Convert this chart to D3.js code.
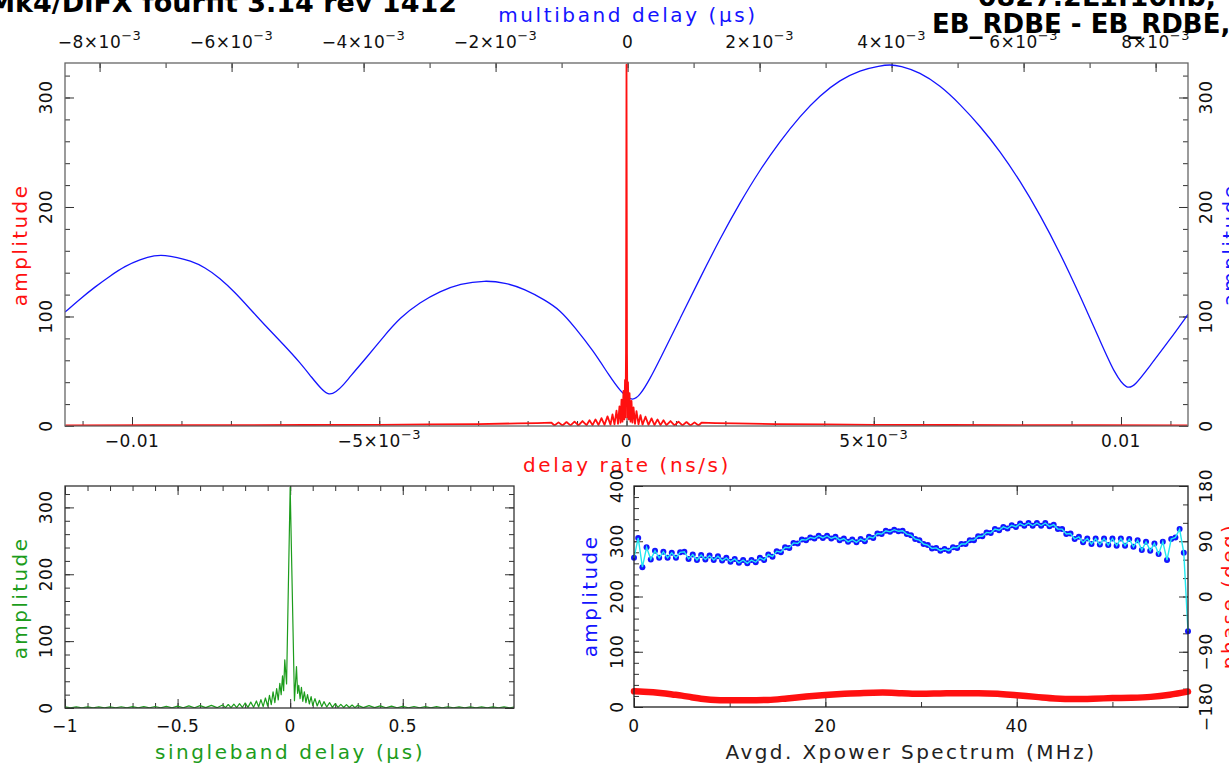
<!DOCTYPE html>
<html><head><meta charset="utf-8">
<script src="https://cdn.jsdelivr.net/npm/d3@7"></script>
<style>
body{margin:0;background:#fff}
svg{display:block}
text{font-family:"DejaVu Sans",sans-serif}
</style>
</head><body>
<svg id="c" width="1229" height="769"></svg>
<script>
// ---------------- DATA ----------------
// multiband delay (us) vs amplitude (top panel, blue, top axis)
const mbdDelay = [-8.524e-3,-8.297e-3,-8.070e-3,-7.842e-3,-7.615e-3,-7.388e-3,-7.161e-3,-7.009e-3,-6.827e-3,-6.630e-3,
 -6.403e-3,-6.176e-3,-5.948e-3,-5.721e-3,-5.464e-3,-5.206e-3,-4.964e-3,-4.782e-3,-4.630e-3,-4.524e-3,
 -4.418e-3,-4.312e-3,-4.206e-3,-3.948e-3,-3.706e-3,-3.448e-3,-3.145e-3,-2.842e-3,-2.539e-3,-2.161e-3,
 -1.858e-3,-1.555e-3,-1.252e-3,-1.024e-3,-0.797e-3,-0.524e-3,-0.267e-3,-0.115e-3,0.067e-3,0.188e-3,
 0.339e-3,0.491e-3,0.794e-3,1.097e-3,1.400e-3,1.703e-3,2.006e-3,2.309e-3,2.612e-3,2.915e-3,
 3.218e-3,3.521e-3,3.824e-3,3.976e-3,4.127e-3,4.430e-3,4.733e-3,5.036e-3,5.339e-3,5.642e-3,
 5.945e-3,6.248e-3,6.552e-3,6.855e-3,7.158e-3,7.385e-3,7.567e-3,7.688e-3,7.915e-3,8.218e-3,8.491e-3];
const mbdAmp = [104,116,127,137,146,152,156,156,154,151,
 145,135,122,107,90,74,58,44,33,28,
 31,37,45,63,81,99,113,123,130,133,
 131,125,115,106,90,69,45,32,22,28,
 43,61,98,135,171,204,234,260,283,302,
 316,325,329,330,329,323,311,294,274,251,
 224,193,158,119,78,47,33,37,55,79,102];

// delay rate (ns/s) vs amplitude (top panel, red, bottom axis)
const rateX = [-0.01135,-0.0095,-0.008,-0.0065,-0.005,-0.004,-0.003,-0.0022,-0.0018,
 -1.517e-3,-1.456e-3,-1.375e-3,-1.294e-3,-1.213e-3,-1.132e-3,-1.051e-3,-9.71e-4,-8.90e-4,-8.09e-4,-7.48e-4,-6.87e-4,-6.27e-4,-5.66e-4,-5.06e-4,-4.45e-4,-3.84e-4,-3.24e-4,-2.83e-4,-2.43e-4,-2.02e-4,-1.72e-4,-1.42e-4,-1.21e-4,-1.01e-4,-8.1e-5,-6.1e-5,-4.4e-5,-3.0e-5,-2.0e-5,-1.0e-5,
 0,
 1.0e-5,2.0e-5,3.0e-5,4.4e-5,6.1e-5,8.1e-5,1.01e-4,1.21e-4,1.42e-4,1.72e-4,2.02e-4,2.43e-4,2.83e-4,3.24e-4,3.84e-4,4.45e-4,5.06e-4,5.66e-4,6.27e-4,6.87e-4,7.48e-4,8.09e-4,8.90e-4,9.71e-4,1.051e-3,1.132e-3,1.213e-3,1.294e-3,1.375e-3,1.456e-3,1.517e-3,
 0.0018,0.0022,0.003,0.004,0.005,0.0065,0.008,0.0095,0.01135];
const rateAmp = [0.6,0.7,0.8,0.9,1.1,1.4,1.8,2.4,2.7,
 3,0.5,3.3,0.5,3.6,0.6,4,0.6,4.5,0.7,5.2,0.8,6,0.9,7.2,1,8.8,1.2,10.5,1.5,14,2,18,3,24,4,32,6,42,8,67,
 330,
 66,8,40,6,30,4,23,3,17,2,13.5,1.5,10,1.2,8.5,1,7,0.9,6,0.8,5.2,0.7,4.5,0.6,4,0.6,3.6,0.5,3.3,0.5,3,
 2.7,2.4,1.8,1.4,1.1,0.9,0.8,0.7,0.6];

// singleband delay (us) vs amplitude (bottom-left, green)
const sbdX = [-1,-0.975,-0.95,-0.925,-0.9,-0.875,-0.85,-0.825,-0.8,-0.775,-0.75,-0.725,-0.7,-0.675,-0.65,-0.625,-0.6,-0.575,-0.55,-0.525,-0.5,-0.475,-0.45,-0.425,-0.4,-0.375,-0.35,-0.325,-0.3,
 -0.2875,-0.275,-0.2625,-0.25,-0.2375,-0.225,-0.2125,-0.2,-0.1875,-0.175,-0.1625,-0.15,-0.14,-0.13,-0.12,-0.11,-0.1,-0.092,-0.084,-0.076,-0.068,-0.06,-0.053,-0.046,-0.04,-0.034,-0.029,-0.024,-0.016,
 0,
 0.019,0.028,0.033,0.038,0.044,0.05,0.056,0.063,0.07,0.077,0.085,0.093,0.1,0.11,0.12,0.13,0.14,0.15,0.1625,0.175,0.1875,0.2,0.2125,0.225,0.2375,0.25,0.2625,0.275,0.2875,0.3,
 0.325,0.35,0.375,0.4,0.425,0.45,0.475,0.5,0.525,0.55,0.575,0.6,0.625,0.65,0.675,0.7,0.725,0.75,0.775,0.8,0.825,0.85,0.875,0.9,0.925,0.95,0.975,0.994];
const sbdAmp = [1.6,0.3,1.6,0.3,1.7,0.3,1.7,0.3,1.8,0.3,1.9,0.3,2.0,0.3,2.1,0.3,2.3,0.3,2.5,0.3,2.8,0.4,3.1,0.4,3.5,0.5,4.0,0.5,4.6,
 0.6,5.2,0.6,5.8,0.7,6.5,0.8,7.5,0.9,8.8,1,10.5,1.5,12.5,2,15,3,19,5,24,8,29,12,37,20,48,26,72,36,
 330,
 11,62,22,34,14,31,10,24,8,20,6,17,4,14,3,11.5,2,9.5,1.5,8,1,6.5,1,5.5,0.8,5,0.7,4.4,0.6,4,
 0.5,3.5,0.5,3.1,0.4,2.8,0.4,2.5,0.3,2.3,0.3,2.1,0.3,2.0,0.3,1.9,0.3,1.8,0.3,1.7,0.3,1.7,0.3,1.6,0.3,1.6,0.3,1.5];

// averaged cross-power spectrum amplitude (bottom-right, blue points)
const specAmp = [270,306,253,289,267,283,270,281,270,279,270,280,281,268,276,266,275,267,274,266,
 273,265,270,263,268,261,266,260,266,262,270,266,276,272,282,280,289,288,297,296,
 303,302,307,305,310,306,310,305,308,302,305,299,303,298,304,300,308,306,314,313,
 319,317,321,318,319,313,311,304,302,295,293,287,288,283,286,283,289,288,295,295,
 302,302,309,309,316,315,322,320,326,323,329,326,332,328,333,328,333,328,333,327,
 330,322,322,313,314,304,308,298,305,295,305,294,305,293,305,292,305,292,304,290,
 302,284,299,283,296,277,299,266,304,307,322,279,137];
const specMaxFreq = 57.9; // MHz, last channel
// phase (deg) of averaged spectrum (bottom-right, red)
const phaseFreq = [0,1,2,3,4,5,6,7,8,10,12,14,16,18,20,22,24,26,28,30,32,34,36,38,40,42,44,46,48,50,52,54,56,57.9];
const phaseDeg  = [-154.5,-155,-156,-157.5,-159.5,-161.5,-164,-166.5,-168,-169,-169,-168.5,-166,-163,-160.5,-158.5,-157,-156.5,-157.5,-158.5,-158,-157.5,-157.5,-158.5,-161,-163.5,-166,-167,-166.5,-165.5,-165,-163.5,-160,-155];

// tick values / labels
const rateMajor = [-0.01,-0.005,0,0.005,0.01];
const rateLabels = [["−0.01",null],["−5","−3"],["0",null],["5","−3"],["0.01",null]];
const mbdMajor = [-8e-3,-6e-3,-4e-3,-2e-3,0,2e-3,4e-3,6e-3,8e-3];
const mbdLabels = [["−8","−3"],["−6","−3"],["−4","−3"],["−2","−3"],["0",null],["2","−3"],["4","−3"],["6","−3"],["8","−3"]];
const ampMajor = [0,100,200,300];
const sbdMajor = [-1,-0.5,0,0.5];
const sbdLabels = ["−1","−0.5","0","0.5"];
const specAmpMajor = [0,100,200,300,400];
const freqMajor = [0,20,40];
const phaseMajor = [-180,-90,0,90,180];
const phaseLabels = ["−180","−90","0","90","180"];

// ---------------- DRAWING ----------------
const svg = d3.select("#c");
svg.append("rect").attr("width",1229).attr("height",769).attr("fill","#fff");

const BLUE="#1414ff", RED="#ff1010", GREEN="#1c9c1c", CYAN="#22e8f0";
const FS=17;

function range(a,b,s){const r=[];for(let v=a;v<=b+1e-9;v+=s)r.push(+v.toFixed(8));return r;}
function tickSet(g, axisFn, scale, vals, size, tx, ty, col){
  g.append("g").attr("transform",`translate(${tx},${ty})`)
   .call(axisFn(scale).tickValues(vals).tickSize(size).tickFormat(""))
   .call(s=>{s.select(".domain").remove();s.selectAll("line").attr("stroke",col).attr("stroke-width",1);});
}
function frame(g,x0,y0,x1,y1,col){
  g.append("rect").attr("x",x0).attr("y",y0).attr("width",x1-x0).attr("height",y1-y0)
   .attr("fill","none").attr("stroke",col).attr("stroke-width",1.3);
}
function sciText(g,x,y,mant,exp,color,anchor){
  const t=g.append("text").attr("x",x).attr("y",y).attr("text-anchor",anchor||"middle")
    .attr("font-size",FS).attr("fill",color||"#111").attr("letter-spacing",0.5);
  if(exp===null){t.text(mant);return t;}
  t.append("tspan").text(mant+"×10");
  t.append("tspan").attr("dy",-8).attr("font-size",13).text(exp);
  return t;
}
function vText(g,x,y,str,size,color,ls){
  return g.append("text").attr("transform",`translate(${x},${y}) rotate(-90)`)
   .attr("text-anchor","middle").attr("font-size",size).attr("fill",color)
   .attr("letter-spacing",ls||0).text(str);
}
function hText(g,x,y,str,size,color,ls){
  return g.append("text").attr("x",x).attr("y",y).attr("text-anchor","middle")
   .attr("font-size",size).attr("fill",color).attr("letter-spacing",ls||0).text(str);
}

// ===== TOP PANEL =====
const T={x0:65,x1:1188,y0:63,y1:426};
const xRate=d3.scaleLinear().domain([-0.011355,0.011355]).range([T.x0,T.x1]);
const xMbd=d3.scaleLinear().domain([-8.524e-3,8.491e-3]).range([T.x0,T.x1]);
const yTop=d3.scaleLinear().domain([0,331.5]).range([T.y1,T.y0]);
const gT=svg.append("g");
svg.append("clipPath").attr("id","clipT").append("rect").attr("x",T.x0).attr("y",T.y0).attr("width",T.x1-T.x0).attr("height",T.y1-T.y0);

const tickCol="#333";
tickSet(gT,d3.axisBottom,xRate,range(-0.011,0.011,0.001),-5,0,T.y1,tickCol);
tickSet(gT,d3.axisBottom,xRate,rateMajor,-9,0,T.y1,tickCol);
tickSet(gT,d3.axisTop,xMbd,range(-0.008,0.008,0.001),-5,0,T.y0,tickCol);
tickSet(gT,d3.axisTop,xMbd,mbdMajor,-9,0,T.y0,tickCol);
tickSet(gT,d3.axisLeft,yTop,range(0,320,20),-5,T.x0,0,tickCol);
tickSet(gT,d3.axisLeft,yTop,ampMajor,-9,T.x0,0,tickCol);
tickSet(gT,d3.axisRight,yTop,range(0,320,20),-5,T.x1,0,tickCol);
tickSet(gT,d3.axisRight,yTop,ampMajor,-9,T.x1,0,tickCol);

const lineT=gT.append("g").attr("clip-path","url(#clipT)");
lineT.append("path").datum(d3.range(mbdDelay.length))
  .attr("d",d3.line().x(i=>xMbd(mbdDelay[i])).y(i=>yTop(mbdAmp[i])).curve(d3.curveBasis))
  .attr("fill","none").attr("stroke",BLUE).attr("stroke-width",1.3);
lineT.append("path").datum(d3.range(rateX.length))
  .attr("d",d3.line().x(i=>xRate(rateX[i])).y(i=>yTop(rateAmp[i])))
  .attr("fill","none").attr("stroke",RED).attr("stroke-width",1.8).attr("stroke-linejoin","round");
frame(gT,T.x0,T.y0,T.x1,T.y1,"#666");

rateMajor.forEach((v,i)=>sciText(gT,xRate(v),447,rateLabels[i][0],rateLabels[i][1],"#111"));
mbdMajor.forEach((v,i)=>sciText(gT,xMbd(v),48,mbdLabels[i][0],mbdLabels[i][1],"#111"));
ampMajor.forEach(v=>{vText(gT,52,yTop(v),String(v),FS,"#111",0.5);vText(gT,1212,yTop(v),String(v),FS,"#111",0.5);});
hText(gT,628,22,"multiband delay (μs)",20,BLUE,2.6);
hText(gT,627,472,"delay rate (ns/s)",20,RED,2.6);
vText(gT,27,245,"amplitude",20,RED,2.4);
vText(gT,1237,245,"amplitude",20,BLUE,2.4);

// ===== BOTTOM-LEFT PANEL =====
const L={x0:65,x1:514,y0:486,y1:708};
const xSbd=d3.scaleLinear().domain([-1,0.994]).range([L.x0,L.x1]);
const ySbd=d3.scaleLinear().domain([0,332]).range([L.y1,L.y0]);
const gL=svg.append("g");
svg.append("clipPath").attr("id","clipL").append("rect").attr("x",L.x0).attr("y",L.y0).attr("width",L.x1-L.x0).attr("height",L.y1-L.y0);
tickSet(gL,d3.axisBottom,xSbd,range(-1,0.9,0.1),-5,0,L.y1,tickCol);
tickSet(gL,d3.axisBottom,xSbd,sbdMajor,-9,0,L.y1,tickCol);
tickSet(gL,d3.axisTop,xSbd,range(-1,0.9,0.1),-5,0,L.y0,tickCol);
tickSet(gL,d3.axisTop,xSbd,sbdMajor,-9,0,L.y0,tickCol);
tickSet(gL,d3.axisLeft,ySbd,range(0,320,20),-5,L.x0,0,tickCol);
tickSet(gL,d3.axisLeft,ySbd,ampMajor,-9,L.x0,0,tickCol);
tickSet(gL,d3.axisRight,ySbd,range(0,320,20),-5,L.x1,0,tickCol);
tickSet(gL,d3.axisRight,ySbd,ampMajor,-9,L.x1,0,tickCol);
gL.append("g").attr("clip-path","url(#clipL)").append("path").datum(d3.range(sbdX.length))
  .attr("d",d3.line().x(i=>xSbd(sbdX[i])).y(i=>ySbd(sbdAmp[i])))
  .attr("fill","none").attr("stroke",GREEN).attr("stroke-width",1.2).attr("stroke-linejoin","round");
frame(gL,L.x0,L.y0,L.x1,L.y1,"#333");
sbdMajor.forEach((v,i)=>hText(gL,xSbd(v),732,sbdLabels[i],FS,"#111",0.5));
ampMajor.forEach(v=>vText(gL,52,ySbd(v),String(v),FS,"#111",0.5));
hText(gL,290,759,"singleband delay (μs)",20,GREEN,2.6);
vText(gL,27,598,"amplitude",20,GREEN,2.4);

// ===== BOTTOM-RIGHT PANEL =====
const R={x0:634,x1:1188,y0:486,y1:707};
const xF=d3.scaleLinear().domain([0,specMaxFreq]).range([R.x0,R.x1]);
const yA=d3.scaleLinear().domain([0,400]).range([R.y1,R.y0]);
const yP=d3.scaleLinear().domain([-180,180]).range([R.y1,R.y0]);
const gR=svg.append("g");
tickSet(gR,d3.axisBottom,xF,range(0,50,10),-5,0,R.y1,tickCol);
tickSet(gR,d3.axisBottom,xF,freqMajor,-9,0,R.y1,tickCol);
tickSet(gR,d3.axisTop,xF,range(0,50,10),-5,0,R.y0,tickCol);
tickSet(gR,d3.axisTop,xF,freqMajor,-9,0,R.y0,tickCol);
tickSet(gR,d3.axisLeft,yA,range(0,400,20),-5,R.x0,0,tickCol);
tickSet(gR,d3.axisLeft,yA,specAmpMajor,-9,R.x0,0,tickCol);
tickSet(gR,d3.axisRight,yP,range(-180,180,30),-5,R.x1,0,tickCol);
tickSet(gR,d3.axisRight,yP,phaseMajor,-9,R.x1,0,tickCol);

const specFreq=specAmp.map((_,i)=>i*specMaxFreq/(specAmp.length-1));
gR.append("path").datum(d3.range(phaseFreq.length))
  .attr("d",d3.line().x(i=>xF(phaseFreq[i])).y(i=>yP(phaseDeg[i])).curve(d3.curveMonotoneX))
  .attr("fill","none").attr("stroke",RED).attr("stroke-width",6.5).attr("stroke-linecap","round");
gR.append("g").selectAll("circle").data(d3.range(specAmp.length)).join("circle")
  .attr("cx",i=>xF(specFreq[i])).attr("cy",i=>yA(specAmp[i])).attr("r",3).attr("fill",BLUE);
gR.append("path").datum(d3.range(specAmp.length))
  .attr("d",d3.line().x(i=>xF(specFreq[i])).y(i=>yA(specAmp[i])))
  .attr("fill","none").attr("stroke",CYAN).attr("stroke-width",1.4);
frame(gR,R.x0,R.y0,R.x1,R.y1,"#222");
freqMajor.forEach(v=>hText(gR,xF(v),732,String(v),FS,"#111",0.5));
specAmpMajor.forEach(v=>vText(gR,623,yA(v),String(v),FS,"#111",0.5));
phaseMajor.forEach((v,i)=>vText(gR,1212,yP(v),phaseLabels[i],FS,"#111",0.5));
hText(gR,911,759,"Avgd. Xpower Spectrum (MHz)",20,"#222",2.4);
vText(gR,597,596,"amplitude",20,BLUE,2.4);
vText(gR,1236,596,"phase (deg)",20,RED,2.4);

// ===== TITLES (clipped at top of page) =====
svg.append("text").attr("x",457).attr("y",12).attr("text-anchor","end")
  .attr("font-family","Liberation Sans").attr("font-weight","bold").attr("font-size",27)
  .attr("fill","#000").text("Mk4/DiFX fourfit 3.14 rev 1412");
svg.append("text").attr("x",1216).attr("y",6).attr("text-anchor","end")
  .attr("font-family","Liberation Sans").attr("font-weight","bold").attr("font-size",27)
  .attr("fill","#000").text("0827.2L1f10nb,");
svg.append("text").attr("x",932).attr("y",33).attr("text-anchor","start")
  .attr("font-family","Liberation Sans").attr("font-weight","bold").attr("font-size",26)
  .attr("fill","#000").text("EB_RDBE - EB_RDBE, fr");
</script>
</body></html>
